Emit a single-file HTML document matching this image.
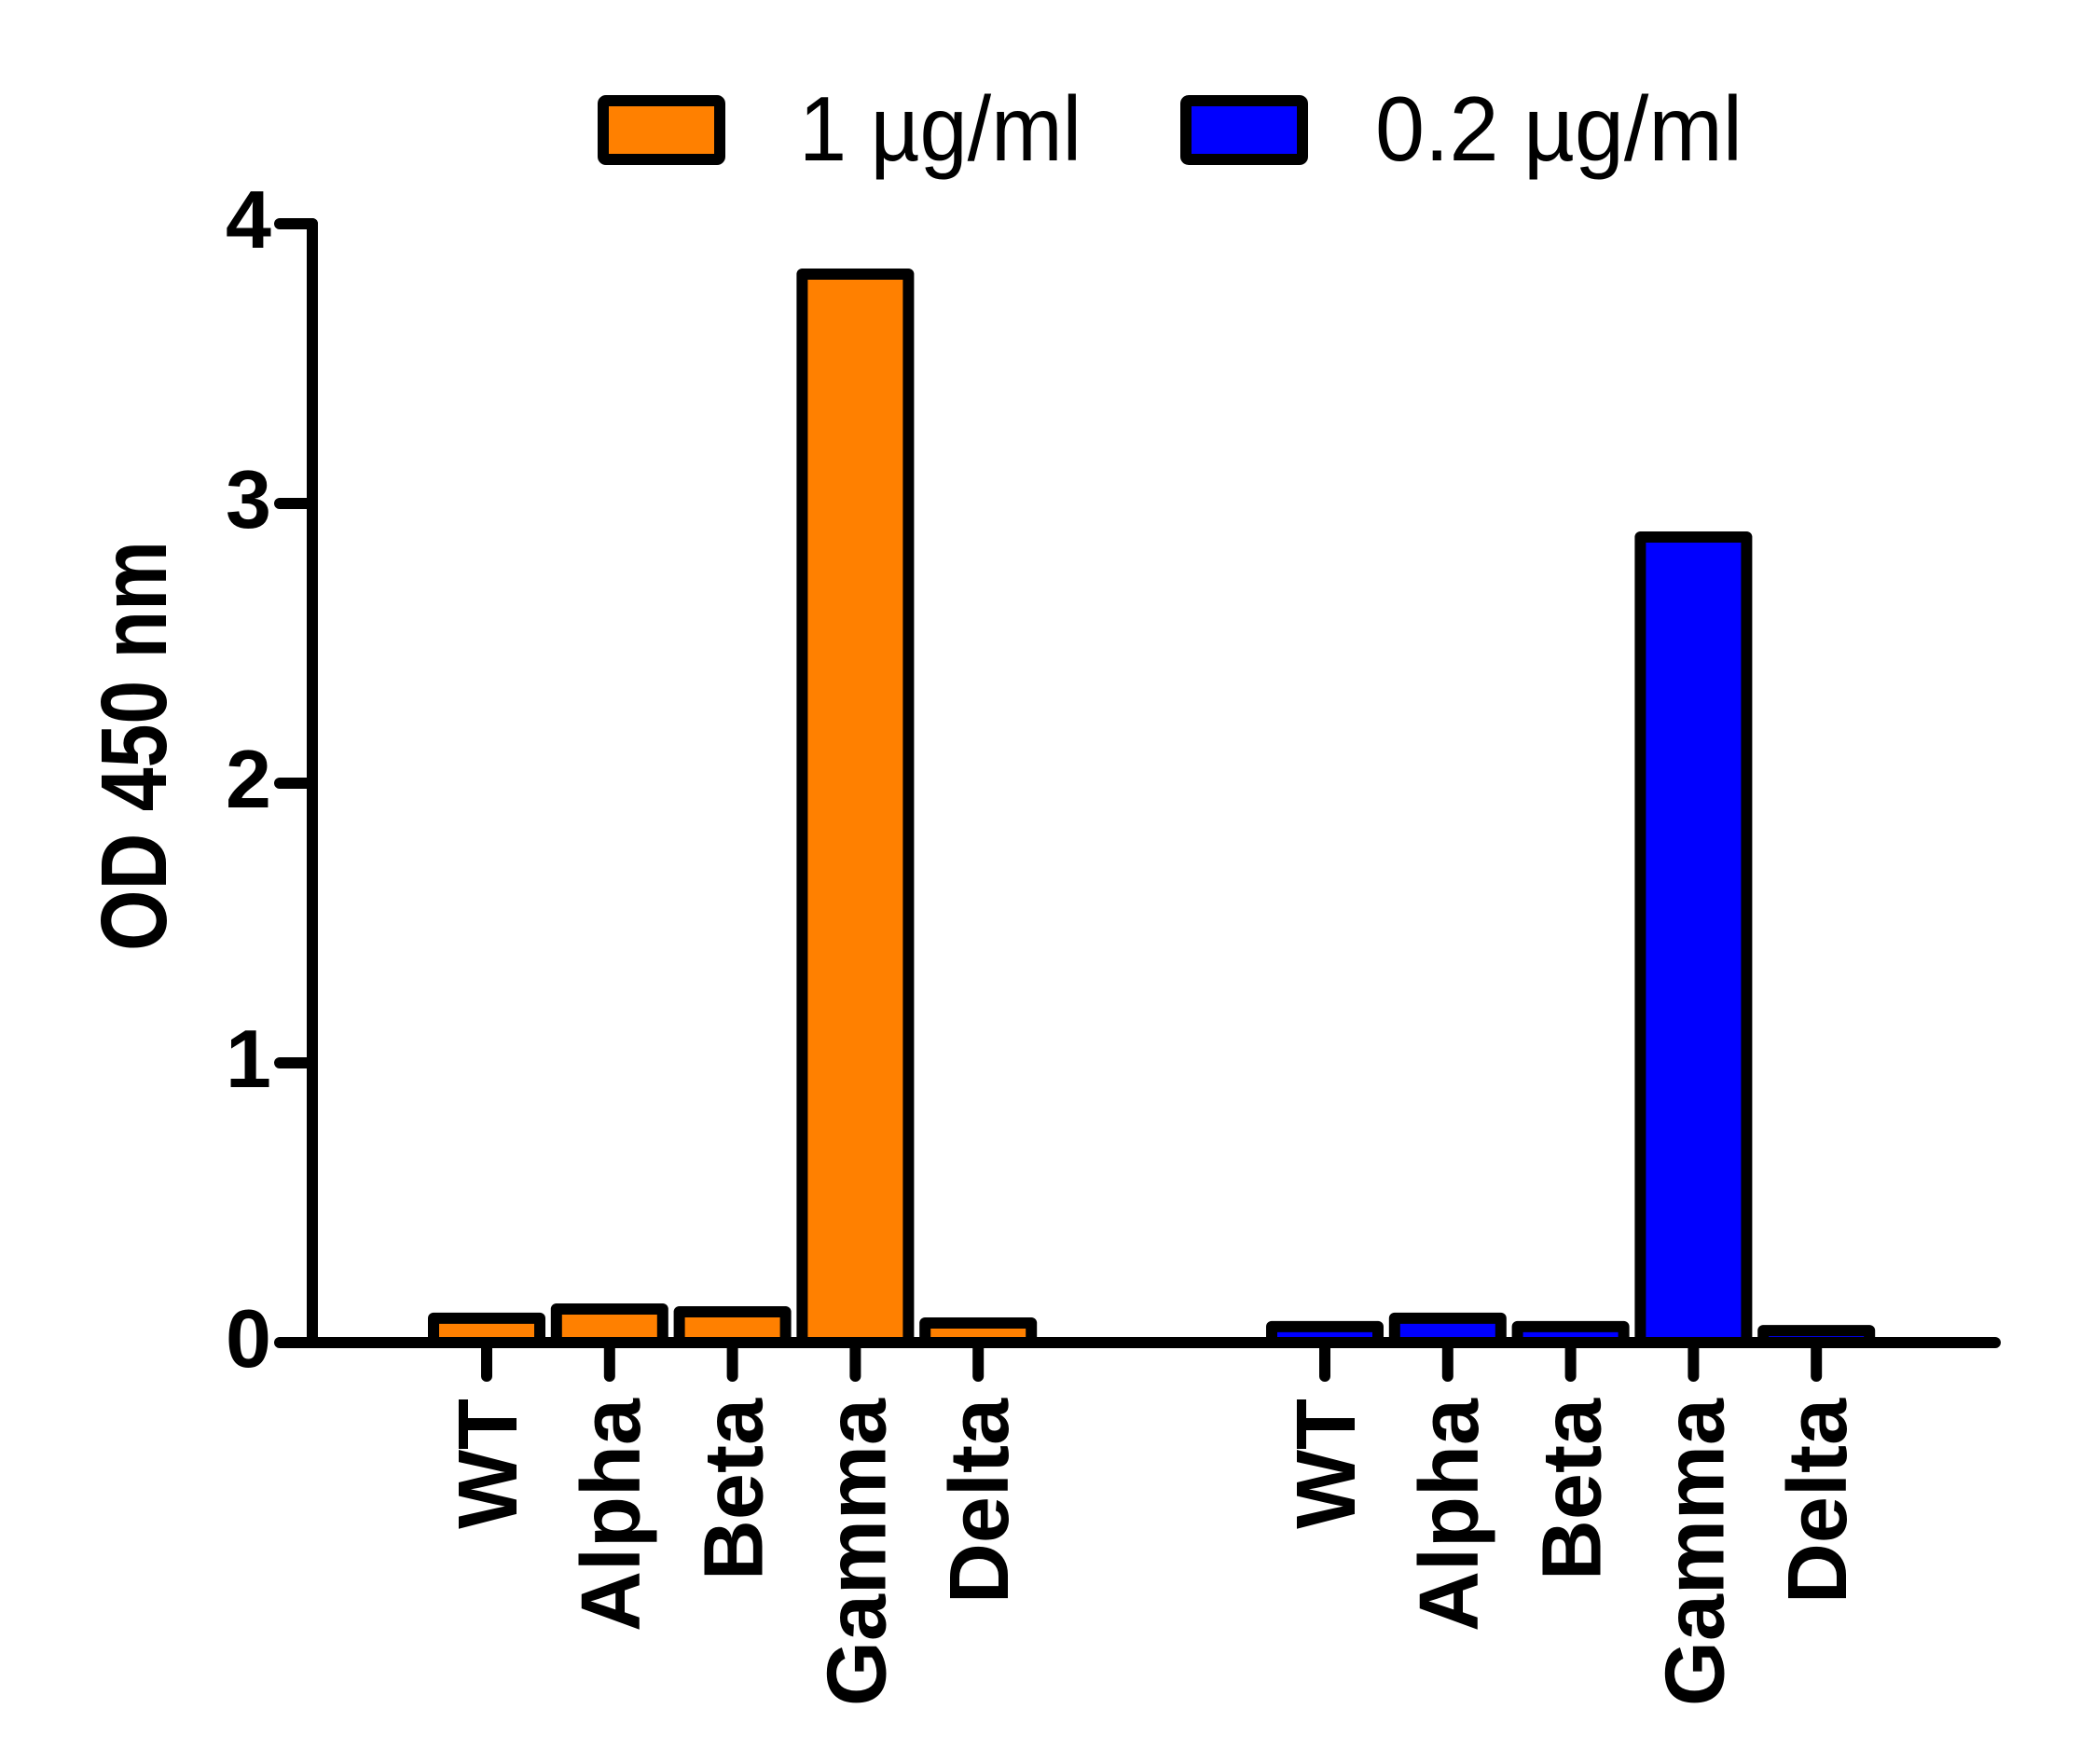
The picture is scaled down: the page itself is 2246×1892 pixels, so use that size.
<!DOCTYPE html>
<html><head><meta charset="utf-8"><style>
html,body{margin:0;padding:0;background:#fff;}
svg{display:block;}
text{font-family:"Liberation Sans",Arial,sans-serif;}
</style></head><body>
<svg id="chart" width="2246" height="1892" viewBox="0 0 2246 1892">
<g id="legend">
  <rect x="647" y="108" width="125" height="63" fill="#ff8000" stroke="#000" stroke-width="12" rx="3"/>
  <text x="857" y="172" font-size="98" textLength="303" lengthAdjust="spacingAndGlyphs">1 µg/ml</text>
  <rect x="1272" y="108" width="125" height="63" fill="#0000ff" stroke="#000" stroke-width="12" rx="3"/>
  <text x="1475" y="172" font-size="98" textLength="394" lengthAdjust="spacingAndGlyphs">0.2 µg/ml</text>
</g>
<text transform="translate(178,800) rotate(-90)" text-anchor="middle" font-size="100" font-weight="bold" textLength="440" lengthAdjust="spacingAndGlyphs">OD 450 nm</text>
<g id="bars"></g>
<g id="axes"></g>
</svg>
<script>
const categories = ["WT","Alpha","Beta","Gamma","Delta"];
const series1 = [0.087, 0.12, 0.11, 3.82, 0.07];
const series2 = [0.057, 0.087, 0.057, 2.88, 0.043];
const yTicks = [0,1,2,3,4];
const yTickLabels = ["0","1","2","3","4"];

const NS = "http://www.w3.org/2000/svg";
const y0 = 1440, pxPerUnit = 300;
function yScale(v){ return y0 - v*pxPerUnit; }
const group1Start = 522, group2Start = 1421, pitch = 131.8;
function xScale(g, i){ return (g===0 ? group1Start : group2Start) + i*pitch; }
const barW = 114;
function mk(tag, attrs, parent){ const e=document.createElementNS(NS,tag); for(const k in attrs) e.setAttribute(k,attrs[k]); parent.appendChild(e); return e; }

const bars = document.getElementById('bars');
const axes = document.getElementById('axes');
[series1, series2].forEach((s, g) => {
  s.forEach((v, i) => {
    const cx = xScale(g, i);
    const top = yScale(v);
    const r = mk('rect', {x: cx-barW/2, y: top, width: barW, height: Math.max(0, y0-top), fill: g===0?'#ff8000':'#0000ff', stroke:'#000','stroke-width':12,'stroke-linejoin':'round'}, bars);
    
    
    const t = mk('line', {x1: cx, y1: y0, x2: cx, y2: 1476, stroke:'#000','stroke-width':12,'stroke-linecap':'round'}, axes);
    
    
    const lbl = mk('text', {transform:'translate('+(cx+32)+',1500) rotate(-90)', 'text-anchor':'end','font-size':90,'font-weight':'bold'}, axes);
    lbl.textContent = categories[i];
    
    
  });
});
const yAxis = mk('line', {x1:335, y1:240, x2:335, y2:y0, stroke:'#000','stroke-width':12,'stroke-linecap':'round'}, axes);


const xAxis = mk('line', {x1:335, y1:y0, x2:2140, y2:y0, stroke:'#000','stroke-width':12,'stroke-linecap':'round'}, axes);


yTicks.forEach((v, i) => {
  const yy = yScale(v);
  const t = mk('line', {x1:300, y1:yy, x2:335, y2:yy, stroke:'#000','stroke-width':12,'stroke-linecap':'round'}, axes);
  
  
  const l = mk('text', {x:291, y:yy+26, 'text-anchor':'end','font-size':88,'font-weight':'bold'}, axes);
  l.textContent = yTickLabels[i];
  
  
});
</script>
</body></html>
